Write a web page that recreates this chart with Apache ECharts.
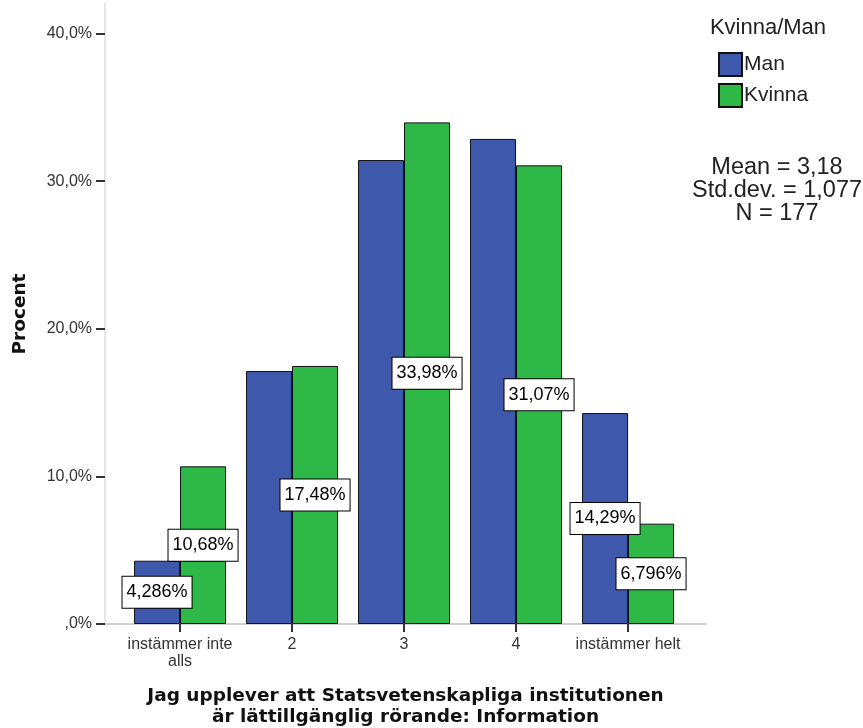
<!DOCTYPE html>
<html>
<head>
<meta charset="utf-8">
<script src="https://cdn.jsdelivr.net/npm/echarts@6/dist/echarts.min.js"></script>
<style>
html,body{margin:0;padding:0;background:#fff;}
#chart{width:863px;height:728px;}
</style>
</head>
<body>
<div id="chart"></div>
<script>
// ---- data ----
const categories = ['instämmer inte\nalls', '2', '3', '4', 'instämmer helt'];
const seriesNames = ['Man', 'Kvinna'];
const manValues = [4.286, 17.14, 31.43, 32.86, 14.29];
const kvinnaValues = [10.68, 17.48, 33.98, 31.07, 6.796];
const manLabelShown = [true, false, false, false, true];
const kvinnaLabelShown = [true, true, true, true, true];
const yTicks = [0, 10, 20, 30, 40];
const legendTitle = 'Kvinna/Man';
const statsLines = ['Mean = 3,18', 'Std.dev. = 1,077', 'N = 177'];
const yAxisTitle = 'Procent';
const xAxisTitle = 'Jag upplever att Statsvetenskapliga institutionen\när lättillgänglig rörande: Information';

// ---- chart ----
const positions = categories.map((c, i) => i + 1);
function fmtPct(v) { return v.toPrecision(4).replace('.', ',') + '%'; }
function yFmt(v) { return v === 0 ? ',0%' : v.toFixed(1).replace('.', ',') + '%'; }

const labelStyle = {
  position: 'inside',
  color: '#000',
  fontFamily: 'Liberation Sans, Arial, sans-serif',
  fontSize: 18,
  lineHeight: 21,
  backgroundColor: '#fff',
  borderColor: '#000',
  borderWidth: 1,
  padding: [5, 4],
  formatter: p => fmtPct(p.value[1])
};

function buildData(vals, shown) {
  return vals.map((v, i) => ({ value: [positions[i], v], label: { show: shown[i] } }));
}

const chart = echarts.init(document.getElementById('chart'), null, { renderer: 'canvas' });
chart.setOption({
  animation: false,
  backgroundColor: '#fff',
  grid: { left: 105, right: 157, top: 4, bottom: 104, containLabel: false, outerBoundsMode: 'none' },
  xAxis: {
    type: 'value',
    min: 0.33,
    max: 5.696,
    splitLine: { show: false },
    axisLine: { show: true, lineStyle: { color: '#cfcfcf', width: 2 } },
    axisTick: { show: true, customValues: positions, length: 8, lineStyle: { color: '#333', width: 2 } },
    axisLabel: {
      customValues: positions,
      formatter: v => categories[Math.round(v) - 1],
      color: '#333',
      fontFamily: 'Liberation Sans, Arial, sans-serif',
      fontSize: 16,
      lineHeight: 17,
      margin: 12
    },
    name: xAxisTitle,
    nameLocation: 'middle',
    nameGap: 62,
    nameTextStyle: {
      fontFamily: 'DejaVu Sans, sans-serif',
      fontWeight: 'bold',
      fontSize: 18.5,
      lineHeight: 21,
      color: '#111'
    }
  },
  yAxis: {
    type: 'value',
    min: 0,
    max: 42,
    splitLine: { show: false },
    axisLine: { show: true, lineStyle: { color: '#e6e6e6', width: 2 } },
    axisTick: { show: true, customValues: yTicks, length: 9, lineStyle: { color: '#333', width: 2 } },
    axisLabel: {
      customValues: yTicks,
      formatter: yFmt,
      color: '#333',
      fontFamily: 'Liberation Sans, Arial, sans-serif',
      fontSize: 16,
      margin: 13
    },
    name: yAxisTitle,
    nameLocation: 'middle',
    nameRotate: 90,
    nameGap: 75,
    nameTextStyle: {
      fontFamily: 'DejaVu Sans, sans-serif',
      fontWeight: 'bold',
      fontSize: 18.5,
      color: '#111'
    }
  },
  legend: {
    orient: 'vertical',
    left: 718,
    top: 52,
    padding: 0,
    itemWidth: 23,
    itemHeight: 23,
    itemGap: 6,
    icon: 'rect',
    textStyle: { fontFamily: 'Liberation Sans, Arial, sans-serif', fontSize: 21, lineHeight: 22, color: '#222', padding: [3, 0, 0, -3] },
    data: seriesNames
  },
  graphic: [
    {
      type: 'text', x: 768, y: 17,
      style: { text: legendTitle, align: 'center', fill: '#222', font: '22px "Liberation Sans", Arial, sans-serif' }
    },
    {
      type: 'text', x: 777, y: 156,
      style: { text: statsLines.join('\n'), align: 'center', fill: '#222', lineHeight: 23,
               font: '23.5px "Liberation Sans", Arial, sans-serif' }
    }
  ],
  series: [
    {
      name: seriesNames[0], type: 'bar', barWidth: 46, barGap: '0%',
      itemStyle: { color: '#3E58AC', borderColor: '#111', borderWidth: 1 },
      label: labelStyle,
      data: buildData(manValues, manLabelShown)
    },
    {
      name: seriesNames[1], type: 'bar', barWidth: 46, barGap: '0%',
      itemStyle: { color: '#2EB848', borderColor: '#111', borderWidth: 1 },
      label: labelStyle,
      data: buildData(kvinnaValues, kvinnaLabelShown)
    }
  ]
});
</script>
</body>
</html>
